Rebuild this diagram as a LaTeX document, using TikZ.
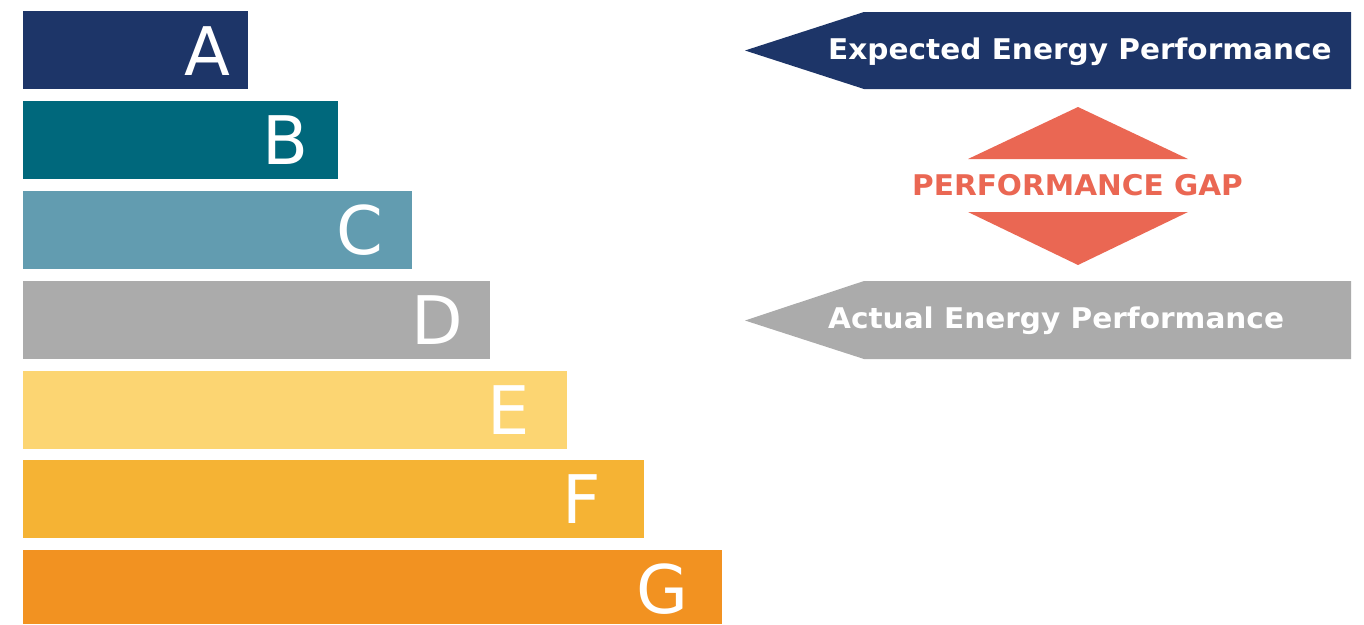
\documentclass[tikz,border=0pt]{standalone}
\usepackage{fontspec}
\setmainfont{DejaVu Sans}
\newfontfamily\labelbold[FakeStretch=1.037]{DejaVu Sans Bold}
\definecolor{clsA}{HTML}{1D3568}
\definecolor{clsB}{HTML}{00687C}
\definecolor{clsC}{HTML}{629CB0}
\definecolor{clsD}{HTML}{ABABAB}
\definecolor{clsE}{HTML}{FCD572}
\definecolor{clsF}{HTML}{F5B334}
\definecolor{clsG}{HTML}{F29221}
\definecolor{gapred}{HTML}{EA6753}
\tikzset{
  bar/.style={anchor=north west, inner sep=0pt, minimum height=78pt},
  grade/.style={text=white, inner sep=0pt, anchor=center, font=\fontsize{67}{67}\selectfont},
  tag/.style={text=white, inner sep=0pt, anchor=base west, font=\labelbold\fontsize{28.5}{28.5}\selectfont},
}
\begin{document}
\begin{tikzpicture}[x=1pt,y=-1pt]
\useasboundingbox (0,0) rectangle (1364,624);
% energy class bars
\node[bar, fill=clsA, minimum width=225pt] (barA) at (23,11) {};
\node[bar, fill=clsB, minimum width=315pt] (barB) at (23,101) {};
\node[bar, fill=clsC, minimum width=389pt] (barC) at (23,191) {};
\node[bar, fill=clsD, minimum width=467pt] (barD) at (23,281) {};
\node[bar, fill=clsE, minimum width=544pt] (barE) at (23,371) {};
\node[bar, fill=clsF, minimum width=621pt] (barF) at (23,460) {};
\node[bar, fill=clsG, minimum width=699pt, minimum height=74pt] (barG) at (23,550) {};
% class letters
\node[grade] (lA) at (207,51) {A};
\node[grade] (lB) at (285,140.5) {B};
\node[grade] (lC) at (360,230) {C};
\node[grade] (lD) at (437,320) {D};
\node[grade] (lE) at (509,410) {E};
\node[grade] (lF) at (582,499) {F};
\node[grade] (lG) at (662,589) {G};
% pointer arrows
\fill[clsA] (745,50.5) -- (864,12) -- (1351,12) -- (1351,89) -- (864,89) -- cycle;
\fill[clsD] (745,320.5) -- (864,281) -- (1351,281) -- (1351,359) -- (864,359) -- cycle;
\node[tag] (expected) at (828,59.3) {Expected Energy Performance};
\node[tag] (actual) at (828,328) {Actual Energy Performance};
% gap marker
\fill[gapred] (1078,107) -- (1188,159) -- (968,159) -- cycle;
\fill[gapred] (968,212) -- (1188,212) -- (1078,265) -- cycle;
\node[tag, anchor=base, text=gapred] (gap) at (1077.5,195.7) {PERFORMANCE GAP};
\end{tikzpicture}
\end{document}
